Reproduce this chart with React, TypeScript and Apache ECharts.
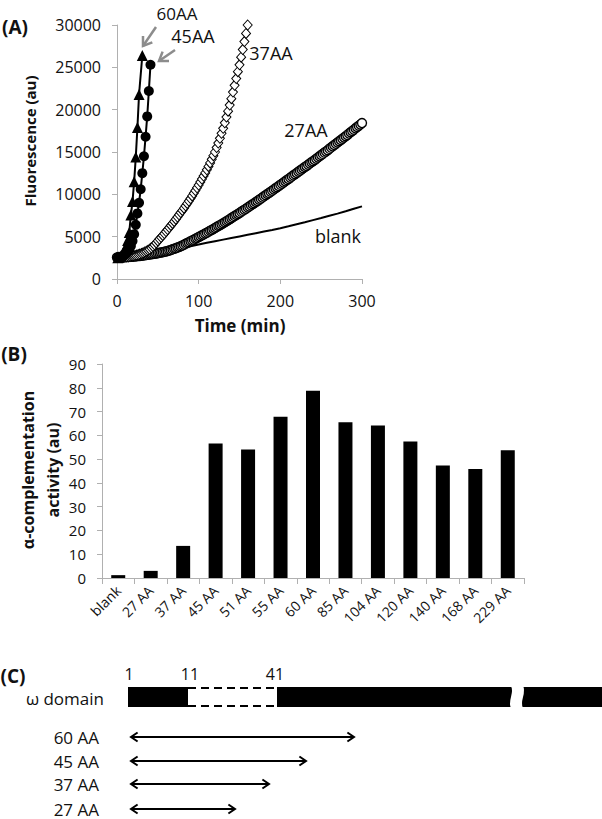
import React, { useEffect, useRef } from "react";
import * as echarts from "echarts";

const FONT = '"Open Sans", sans-serif';
const TXT = "#111111";
const AXIS = "#b0b0b0";

// ---------- Panel A data ----------
const time60 = [1, 3, 5, 7, 9, 11, 13, 15, 17, 19, 21, 23, 25, 27, 31];
const fluo60 = [2500, 2600, 2750, 3000, 3350, 3850, 4550, 5500, 7550, 9150, 11500, 14400, 17900, 21800, 26400];

const time45 = [1, 3, 5, 7, 9, 11, 13, 15, 17, 19, 21, 23, 25, 27, 29, 31, 33, 35, 37, 39, 41];
const fluo45 = [2500, 2550, 2600, 2700, 2800, 2950, 3150, 3450, 3900, 4500, 5300, 6400, 7750, 9000, 10600, 12500, 14500, 16800, 19200, 22200, 25300];

const step37 = 2; // minutes between readings
const fluo37 = [
  2550, 2555, 2560, 2570, 2580, 2590, 2610, 2630, 2660, 2690, 2730,
  2780, 2830, 2890, 2950, 3020, 3100, 3190, 3290, 3400, 3520,
  3680, 3850, 4030, 4260, 4500, 4710, 4920, 5140, 5370, 5600,
  5840, 6080, 6320, 6560, 6800, 7060, 7320, 7580, 7840, 8100,
  8370, 8650, 8930, 9210, 9500, 9810, 10120, 10440, 10770, 11100,
  11450, 11800, 12160, 12530, 12900, 13300, 13710, 14130, 14560, 15000,
  15520, 16060, 16620, 17200, 17800, 18450, 19120, 19820, 20550, 21300,
  22080, 22870, 23680, 24490, 25300, 26200, 27100, 28050, 29000, 30000,
];

const step27 = 2;
const fluo27 = [
  2550, 2555, 2560, 2570, 2580, 2590, 2600, 2610, 2625, 2640, 2655,
  2670, 2690, 2710, 2730, 2750, 2775, 2800, 2825, 2855, 2885,
  2915, 2950, 2985, 3020, 3055, 3090, 3130, 3170, 3210, 3250,
  3310, 3370, 3430, 3500, 3570, 3640, 3710, 3790, 3870, 3950,
  4050, 4150, 4250, 4350, 4450, 4550, 4650, 4750, 4850, 4950,
  5050, 5160, 5260, 5370, 5470, 5580, 5690, 5800, 5910, 6020,
  6130, 6250, 6360, 6480, 6590, 6710, 6830, 6950, 7070, 7190,
  7310, 7430, 7560, 7680, 7800, 7930, 8050, 8180, 8310, 8440,
  8570, 8700, 8830, 8960, 9090, 9220, 9360, 9490, 9620, 9760,
  9890, 10030, 10160, 10300, 10430, 10570, 10710, 10840, 10980, 11120,
  11260, 11400, 11540, 11680, 11820, 11960, 12100, 12240, 12380, 12520,
  12660, 12800, 12940, 13080, 13220, 13360, 13500, 13640, 13780, 13920,
  14060, 14200, 14350, 14490, 14640, 14780, 14930, 15070, 15220, 15370,
  15520, 15670, 15820, 15970, 16120, 16270, 16420, 16570, 16720, 16870,
  17020, 17180, 17330, 17490, 17640, 17800, 17950, 18110, 18260, 18420,
];

const stepBlank = 10;
const fluoBlank = [
  2300, 2430, 2580, 2740, 2910, 3090, 3280, 3480, 3680, 3880, 4080,
  4270, 4460, 4650, 4840, 5030, 5220, 5410, 5600, 5790, 5990,
  6220, 6460, 6700, 6950, 7200, 7460, 7720, 8000, 8290, 8580,
];

const timeTicksA = [0, 100, 200, 300];
const fluoTicksA = [0, 5000, 10000, 15000, 20000, 25000, 30000];

// ---------- Panel B data ----------
const constructs = ["blank", "27 AA", "37 AA", "45 AA", "51 AA", "55 AA", "60 AA", "85 AA", "104 AA", "120 AA", "140 AA", "168 AA", "229 AA"];
const activity = [1.2, 3.0, 13.5, 56.6, 54.0, 67.8, 78.7, 65.5, 64.1, 57.4, 47.3, 45.8, 53.7];
const activityTicks = [0, 10, 20, 30, 40, 50, 60, 70, 80, 90];

// ---------- Panel C ----------
const domainMarks = ["1", "11", "41"];
const fragmentLabels = ["60 AA", "45 AA", "37 AA", "27 AA"];

function pairs(times: number[], vals: number[]) {
  return vals.map((v, i) => [times[i], v]);
}
function stepped(step: number, vals: number[]) {
  return vals.map((v, i) => [i * step, v]);
}

function chevron(x: number, y: number, dirAngle: number, len: number, color: string, w: number) {
  const back = dirAngle + Math.PI;
  const s = 0.6;
  return {
    type: "polyline",
    shape: {
      points: [
        [x + len * Math.cos(back + s), y + len * Math.sin(back + s)],
        [x, y],
        [x + len * Math.cos(back - s), y + len * Math.sin(back - s)],
      ],
    },
    style: { stroke: color, lineWidth: w, fill: null },
    silent: true,
  };
}

function grayArrow(x1: number, y1: number, x2: number, y2: number) {
  const a = Math.atan2(y2 - y1, x2 - x1);
  return [
    { type: "line", shape: { x1, y1, x2, y2 }, style: { stroke: "#8c8c8c", lineWidth: 2.5 }, silent: true },
    chevron(x2, y2, a, 10, "#8c8c8c", 2.5),
  ];
}

function doubleArrow(x1: number, x2: number, y: number) {
  return [
    { type: "line", shape: { x1, y1: y, x2, y2: y }, style: { stroke: "#000", lineWidth: 2 }, silent: true },
    chevron(x1, y, Math.PI, 8, "#000", 2),
    chevron(x2, y, 0, 8, "#000", 2),
  ];
}

function txt(text: string, x: number, y: number, size: number, opts: any = {}) {
  return {
    type: "text",
    x,
    y,
    rotation: opts.rotation || 0,
    silent: true,
    style: {
      text,
      font: `${opts.bold ? "bold " : ""}${size}px ${FONT}`,
      fill: opts.fill || TXT,
      textAlign: opts.align || "center",
      textVerticalAlign: "middle",
    },
  };
}

export default function App() {
  const ref = useRef<HTMLDivElement>(null);
  useEffect(() => {
    document.body.style.margin = "0";
    if (!ref.current) return;
    const chart = echarts.init(ref.current, undefined, { renderer: "svg" });

    const arrowXs = [354, 306, 269, 235];
    const arrowYs = [737, 761, 784, 809];

    const graphics: any[] = [
      txt("(A)", 15, 27, 19, { bold: true }),
      txt("Fluorescence (au)", 30, 141, 15, { bold: true, rotation: Math.PI / 2 }),
      txt("Time (min)", 240, 325, 17, { bold: true }),
      txt("60AA", 177, 13, 17),
      txt("45AA", 193, 36, 18),
      txt("37AA", 271, 53, 18),
      txt("27AA", 306, 130, 18),
      txt("blank", 338, 236, 18),
      ...grayArrow(156, 27, 143, 46),
      ...grayArrow(175, 50, 159, 61),

      txt("(B)", 14, 354, 19, { bold: true }),
      txt("α-complementation", 28, 470, 16, { bold: true, rotation: Math.PI / 2 }),
      txt("activity (au)", 53, 470, 16, { bold: true, rotation: Math.PI / 2 }),

      txt("(C)", 13, 676, 19, { bold: true }),
      txt(domainMarks[0], 129, 674, 16),
      txt(domainMarks[1], 190, 674, 16),
      txt(domainMarks[2], 275, 674, 16),
      txt("ω domain", 104, 698, 17, { align: "right" }),
      { type: "rect", shape: { x: 128, y: 687, width: 60, height: 20 }, style: { fill: "#000" }, silent: true },
      { type: "line", shape: { x1: 188, y1: 688, x2: 277, y2: 688 }, style: { stroke: "#000", lineWidth: 2, lineDash: [8, 5] }, silent: true },
      { type: "line", shape: { x1: 188, y1: 706, x2: 277, y2: 706 }, style: { stroke: "#000", lineWidth: 2, lineDash: [8, 5] }, silent: true },
      { type: "rect", shape: { x: 277, y: 687, width: 235, height: 20 }, style: { fill: "#000" }, silent: true },
      { type: "rect", shape: { x: 522, y: 687, width: 80, height: 20 }, style: { fill: "#000" }, silent: true },
      { type: "bezierCurve", shape: { x1: 512, y1: 686, x2: 512, y2: 708, cpx1: 516, cpy1: 693, cpx2: 508, cpy2: 701 }, style: { stroke: "#fff", lineWidth: 2, fill: null }, silent: true },
      { type: "bezierCurve", shape: { x1: 522, y1: 686, x2: 522, y2: 708, cpx1: 526, cpy1: 693, cpx2: 518, cpy2: 701 }, style: { stroke: "#fff", lineWidth: 2, fill: null }, silent: true },
    ];
    fragmentLabels.forEach((lab, i) => {
      graphics.push(txt(lab, 99, arrowYs[i], 17, { align: "right" }));
      graphics.push(...doubleArrow(131, arrowXs[i], arrowYs[i]));
    });

    const axisCommon = {
      axisLine: { show: true, lineStyle: { color: AXIS, width: 1 } },
      axisTick: { show: true, inside: false, length: 5, lineStyle: { color: AXIS } },
      splitLine: { show: false },
    };

    chart.setOption({
      animation: false,
      backgroundColor: "#fff",
      textStyle: { fontFamily: FONT },
      grid: [
        { left: 117, top: 25, width: 245, height: 254 },
        { left: 102, top: 364, width: 422, height: 214 },
      ],
      xAxis: [
        {
          gridIndex: 0,
          type: "value",
          min: timeTicksA[0],
          max: timeTicksA[timeTicksA.length - 1],
          interval: 100,
          ...axisCommon,
          axisLabel: { fontSize: 16, color: TXT, margin: 14, fontFamily: FONT },
        },
        {
          gridIndex: 1,
          type: "category",
          data: constructs,
          ...axisCommon,
          axisTick: { show: true, length: 6, lineStyle: { color: AXIS } },
          axisLabel: { rotate: 45, interval: 0, fontSize: 14, color: TXT, margin: 10, fontFamily: FONT },
        },
      ],
      yAxis: [
        {
          gridIndex: 0,
          type: "value",
          min: fluoTicksA[0],
          max: fluoTicksA[fluoTicksA.length - 1],
          interval: 5000,
          ...axisCommon,
          axisLabel: { fontSize: 16, color: TXT, margin: 16, fontFamily: FONT, formatter: (v: number) => String(v) },
        },
        {
          gridIndex: 1,
          type: "value",
          min: activityTicks[0],
          max: activityTicks[activityTicks.length - 1],
          interval: 10,
          ...axisCommon,
          axisLabel: { fontSize: 15, color: TXT, margin: 16, fontFamily: FONT },
        },
      ],
      series: [
        {
          name: "blank",
          type: "line",
          xAxisIndex: 0,
          yAxisIndex: 0,
          data: stepped(stepBlank, fluoBlank),
          showSymbol: false,
          lineStyle: { color: "#000", width: 2 },
          silent: true,
        },
        {
          name: "27AA",
          type: "line",
          xAxisIndex: 0,
          yAxisIndex: 0,
          data: stepped(step27, fluo27),
          symbol: "circle",
          symbolSize: 9,
          showAllSymbol: true,
          itemStyle: { color: "#fff", borderColor: "#000", borderWidth: 1.4 },
          lineStyle: { color: "#000", width: 1 },
          silent: true,
        },
        {
          name: "37AA",
          type: "line",
          xAxisIndex: 0,
          yAxisIndex: 0,
          data: stepped(step37, fluo37),
          symbol: "diamond",
          symbolSize: [9, 10],
          showAllSymbol: true,
          itemStyle: { color: "#fff", borderColor: "#000", borderWidth: 1 },
          lineStyle: { color: "#000", width: 1 },
          silent: true,
        },
        {
          name: "45AA",
          type: "line",
          xAxisIndex: 0,
          yAxisIndex: 0,
          data: pairs(time45, fluo45),
          symbol: "circle",
          symbolSize: 10,
          itemStyle: { color: "#000" },
          lineStyle: { color: "#000", width: 2 },
          silent: true,
        },
        {
          name: "60AA",
          type: "line",
          xAxisIndex: 0,
          yAxisIndex: 0,
          data: pairs(time60, fluo60),
          symbol: "triangle",
          symbolSize: 11,
          itemStyle: { color: "#000" },
          lineStyle: { color: "#000", width: 2 },
          silent: true,
        },
        {
          name: "activity",
          type: "bar",
          xAxisIndex: 1,
          yAxisIndex: 1,
          data: activity,
          barWidth: 14,
          itemStyle: { color: "#000" },
          silent: true,
        },
      ],
      graphic: graphics,
    });
    return () => chart.dispose();
  }, []);
  return <div ref={ref} style={{ width: 602, height: 819 }} />;
}
